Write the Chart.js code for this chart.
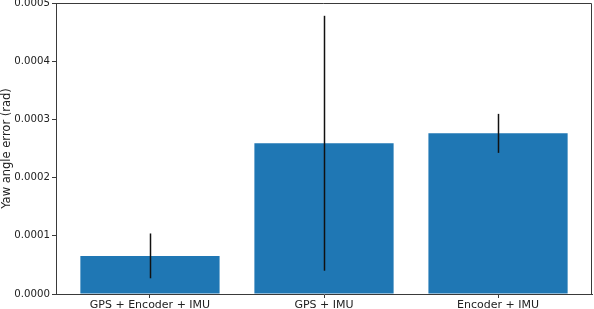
<!DOCTYPE html>
<html>
<head>
<meta charset="utf-8">
<script src="https://cdn.jsdelivr.net/npm/chart.js@4"></script>
<style>
  html, body { margin: 0; padding: 0; background: #fff; }
  #wrap { width: 594px; height: 309px; }
</style>
</head>
<body>
<div id="wrap"><canvas id="chart" width="594" height="309"></canvas></div>
<script>
// data
const setups = ["GPS + Encoder + IMU", "GPS + IMU", "Encoder + IMU"];
const yawError = [0.0000655, 0.000259, 0.000276];
const yawStd = [0.0000385, 0.000219, 0.0000335];
const yTicks = [0, 0.0001, 0.0002, 0.0003, 0.0004, 0.0005];

const spine = "#3a3a3a";

// error bars, drawn from the same scales as the bars
const errorBars = {
  id: "errorBars",
  afterDatasetsDraw(chart) {
    const { ctx } = chart;
    const x = chart.scales.x, y = chart.scales.y;
    ctx.save();
    ctx.strokeStyle = "#111";
    ctx.lineWidth = 1.5;
    yawError.forEach((v, i) => {
      const px = Math.round(x.getPixelForValue(i)) + 0.5;
      ctx.beginPath();
      ctx.moveTo(px, y.getPixelForValue(v - yawStd[i]));
      ctx.lineTo(px, y.getPixelForValue(v + yawStd[i]));
      ctx.stroke();
    });
    ctx.restore();
  },
  afterDraw(chart) {
    // top and right spines
    const { ctx, chartArea: a } = chart;
    ctx.save();
    ctx.strokeStyle = spine;
    ctx.lineWidth = 1;
    ctx.beginPath();
    ctx.moveTo(a.left, a.top + 0.5);
    ctx.lineTo(a.right - 0.5, a.top + 0.5);
    ctx.lineTo(a.right - 0.5, a.bottom);
    ctx.stroke();
    ctx.restore();
  },
};

new Chart(document.getElementById("chart"), {
  type: "bar",
  data: {
    datasets: [
      {
        data: yawError.map((v, i) => ({ x: i, y: v })),
        backgroundColor: "#1f77b4",
        borderWidth: 0,
        barPercentage: 0.8,
        categoryPercentage: 1,
      },
    ],
  },
  options: {
    responsive: false,
    animation: false,
    layout: { padding: { top: 3, right: 2, left: 0, bottom: 0 } },
    plugins: { legend: { display: false }, tooltip: { enabled: false } },
    scales: {
      x: {
        type: "linear",
        min: -0.54,
        max: 2.54,
        offset: false,
        afterBuildTicks: (s) => { s.ticks = setups.map((_, i) => ({ value: i })); },
        ticks: {
          callback: (v) => setups[v],
          color: "#222",
          font: { family: "DejaVu Sans", size: 11 },
          padding: 1,
          maxRotation: 0,
          autoSkip: false,
        },
        grid: { offset: false, drawOnChartArea: false, drawTicks: true, tickLength: 4, color: spine },
        border: { display: true, color: spine, width: 1 },
        afterFit: (s) => { s.height = 15; s.paddingLeft = 0; s.paddingRight = 0; },
      },
      y: {
        min: 0,
        max: 0.0005,
        afterBuildTicks: (s) => { s.ticks = yTicks.map((v) => ({ value: v })); },
        ticks: {
          callback: (v) => v.toFixed(4),
          color: "#222",
          font: { family: "DejaVu Sans", size: 10.2 },
          padding: 2,
        },
        title: {
          display: true,
          text: "Yaw angle error (rad)",
          color: "#222",
          font: { family: "DejaVu Sans", size: 11.5 },
          padding: 0,
        },
        grid: { drawOnChartArea: false, drawTicks: true, tickLength: 4, color: spine },
        border: { display: true, color: spine, width: 1 },
        afterFit: (s) => { s.width = 56; s.paddingTop = 0; s.paddingBottom = 0; },
      },
    },
  },
  plugins: [errorBars],
});
</script>
</body>
</html>
